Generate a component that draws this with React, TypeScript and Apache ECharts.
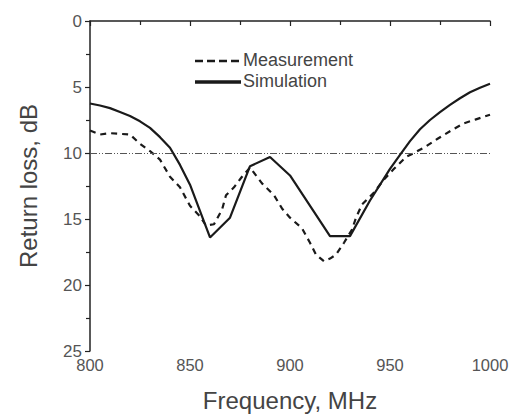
import React, { useEffect, useRef } from "react";
import * as echarts from "echarts";

const simFreq = [800, 805, 810, 815, 820, 825, 830, 835, 840, 845, 850, 860, 870, 880, 890, 900, 920, 930, 940, 950, 955, 960, 965, 970, 975, 980, 985, 990, 995, 1000];
const simLoss = [6.25, 6.4, 6.6, 6.9, 7.2, 7.6, 8.1, 8.8, 9.6, 10.9, 12.4, 16.4, 14.9, 11.0, 10.3, 11.7, 16.3, 16.3, 13.6, 11.2, 10.15, 9.1, 8.2, 7.5, 6.9, 6.35, 5.85, 5.4, 5.05, 4.75];

const measFreq = [800, 805, 810, 815, 820, 825, 830, 835, 840, 845, 850, 855, 858, 862, 866, 868, 872, 876, 880, 886, 892, 896, 900, 906, 910, 913, 917, 920, 923, 927, 931, 933, 936, 942, 947, 952, 958, 962, 968, 974, 981, 987, 993, 1000];
const measLoss = [8.3, 8.6, 8.5, 8.55, 8.6, 9.3, 9.85, 10.5, 11.8, 12.6, 14.0, 14.8, 15.5, 15.4, 14.3, 13.2, 12.6, 11.8, 11.1, 12.3, 13.2, 14.2, 14.9, 15.7, 16.8, 17.7, 18.2, 18.0, 17.7, 16.8, 15.8, 14.9, 13.9, 13.0, 12.0, 11.2, 10.3, 10.0, 9.5, 8.9, 8.26, 7.75, 7.45, 7.1];

const xTicks = [800, 850, 900, 950, 1000];
const yTicks = [0, 5, 10, 15, 20, 25];
const refLevel = 10;
const seriesNames = ["Measurement", "Simulation"];

const FONT = "'Liberation Sans', Arial, sans-serif";

export default function App() {
  const ref = useRef<HTMLDivElement>(null);
  useEffect(() => {
    if (!ref.current) return;
    const chart = echarts.init(ref.current, undefined, { renderer: "svg" });
    const sim = simFreq.map((f, i) => [f, simLoss[i]]);
    const meas = measFreq.map((f, i) => [f, measLoss[i]]);
    chart.setOption({
      animation: false,
      backgroundColor: "#fff",
      grid: { left: 90, top: 21, right: 23, bottom: 68 },
      graphic: [
        {
          type: "line",
          shape: { x1: 195, y1: 61, x2: 241, y2: 61 },
          style: { stroke: "#1a1a1a", lineWidth: 2.4, lineDash: [8, 4] },
        },
        {
          type: "text",
          x: 243,
          y: 60,
          style: { text: seriesNames[0], font: `18px ${FONT}`, fill: "#444", textVerticalAlign: "middle", verticalAlign: "middle" },
        },
        {
          type: "line",
          shape: { x1: 195, y1: 82, x2: 241, y2: 82 },
          style: { stroke: "#1a1a1a", lineWidth: 3.4 },
        },
        {
          type: "text",
          x: 243,
          y: 81,
          style: { text: seriesNames[1], font: `18px ${FONT}`, fill: "#444", textVerticalAlign: "middle", verticalAlign: "middle" },
        },
      ],
      xAxis: {
        type: "value",
        min: xTicks[0],
        max: xTicks[xTicks.length - 1],
        interval: 50,
        name: "Frequency, MHz",
        nameLocation: "middle",
        nameGap: 37,
        nameTextStyle: { fontFamily: FONT, fontSize: 24, color: "#444" },
        axisLine: { lineStyle: { color: "#222", width: 1.5 } },
        axisTick: { show: true, inside: false, length: 5, lineStyle: { color: "#222", width: 1.2 } },
        minorTick: { show: true, splitNumber: 2, length: 4, lineStyle: { color: "#222", width: 1.2 } },
        axisLabel: { fontFamily: FONT, fontSize: 16.5, color: "#555", margin: 5, formatter: (v: number) => String(v) },
        splitLine: { show: false },
      },
      yAxis: {
        type: "value",
        inverse: true,
        min: yTicks[0],
        max: yTicks[yTicks.length - 1],
        interval: 5,
        name: "Return loss, dB",
        nameLocation: "middle",
        nameGap: 50,
        nameTextStyle: { fontFamily: FONT, fontSize: 24, color: "#444" },
        axisLine: { show: true, lineStyle: { color: "#222", width: 1.5 } },
        axisTick: { show: true, inside: false, length: 5, lineStyle: { color: "#222", width: 1.2 } },
        minorTick: { show: true, splitNumber: 2, length: 4, lineStyle: { color: "#222", width: 1.2 } },
        axisLabel: { fontFamily: FONT, fontSize: 17, color: "#555", margin: 8, formatter: (v: number) => String(v) },
        splitLine: { show: false },
      },
      series: [
        {
          name: seriesNames[0],
          type: "line",
          data: meas,
          symbol: "none",
          lineStyle: { color: "#1a1a1a", width: 2.2, type: [6, 5] },
          itemStyle: { color: "#1a1a1a" },
          markLine: {
            silent: true,
            symbol: "none",
            label: { show: false },
            lineStyle: { color: "#555", width: 1, type: [7, 2, 1, 2, 1, 2] },
            data: [{ yAxis: refLevel }],
          },
        },
        {
          name: seriesNames[1],
          type: "line",
          data: sim,
          symbol: "none",
          lineStyle: { color: "#1a1a1a", width: 2.2, type: "solid" },
          itemStyle: { color: "#1a1a1a" },
        },
      ],
    });
    return () => chart.dispose();
  }, []);
  return <div ref={ref} style={{ position: "fixed", left: 0, top: 0, width: 513, height: 419 }} />;
}
